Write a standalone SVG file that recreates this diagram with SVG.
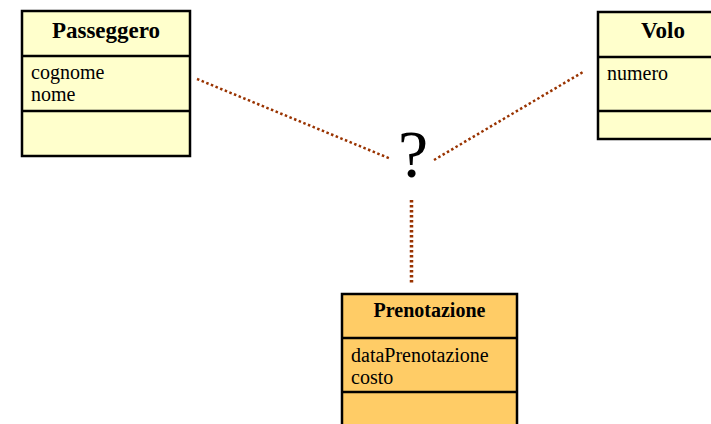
<svg xmlns="http://www.w3.org/2000/svg" width="711" height="424" viewBox="0 0 711 424">
<style>
.box{stroke:#000;stroke-width:2.5}
.div{stroke:#000;stroke-width:2.5}
.t{font-family:"Liberation Serif","Times New Roman",serif;fill:#000}
.title{font-weight:bold;font-size:23px;text-anchor:middle}
.attr{font-size:20px}
.conn{stroke:#993300;fill:none;stroke-dasharray:2.5 2.5}
</style>
<rect width="711" height="424" fill="#fff"/>
<g id="connectors">
<line class="conn" x1="197" y1="79" x2="391" y2="159" stroke-width="2.5"/>
<line class="conn" x1="434" y1="160" x2="583" y2="72" stroke-width="2.5"/>
<line class="conn" x1="411.5" y1="200" x2="411.5" y2="283" stroke-width="3.5" stroke-dasharray="3.5 3"/>
</g>
<g id="question">
<text class="t" x="413" y="177" font-size="68" text-anchor="middle">?</text>
</g>
<g id="Passeggero">
<rect class="box" x="22" y="11" width="168" height="145" fill="#FFFFCC"/>
<line class="div" x1="22" y1="56" x2="190" y2="56"/>
<line class="div" x1="22" y1="111" x2="190" y2="111"/>
<text class="t title" x="106" y="38">Passeggero</text>
<text class="t attr" x="31" y="79">cognome</text>
<text class="t attr" x="31" y="101">nome</text>
</g>
<g id="Volo">
<rect class="box" x="598" y="12" width="120" height="127" fill="#FFFFCC"/>
<line class="div" x1="598" y1="57" x2="718" y2="57"/>
<line class="div" x1="598" y1="111" x2="718" y2="111"/>
<text class="t title" x="663" y="38">Volo</text>
<text class="t attr" x="607" y="80">numero</text>
</g>
<g id="Prenotazione">
<rect class="box" x="342" y="294" width="175" height="140" fill="#FFCC66"/>
<line class="div" x1="342" y1="338" x2="517" y2="338"/>
<line class="div" x1="342" y1="392" x2="517" y2="392"/>
<text class="t title" x="429.5" y="317" style="font-size:20px">Prenotazione</text>
<text class="t attr" x="351" y="361.5">dataPrenotazione</text>
<text class="t attr" x="351" y="384">costo</text>
</g>
</svg>
